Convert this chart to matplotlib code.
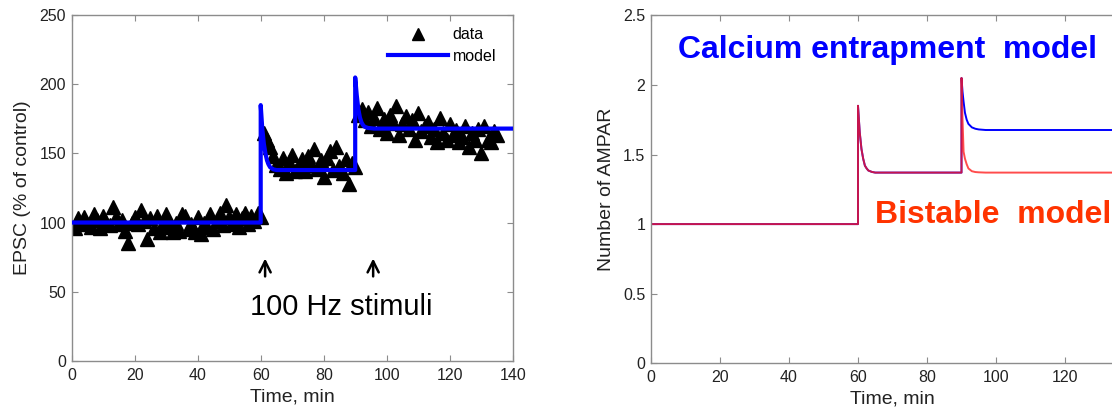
import matplotlib
matplotlib.use("Agg")
import matplotlib.pyplot as plt
from matplotlib.lines import Line2D
import numpy as np

plt.rcParams['font.family'] = ['Liberation Sans', 'DejaVu Sans']

# EPSC recordings, one sample per minute (% of control)
epsc_time = np.arange(0, 136)
epsc_values = [
    # 0-59 min, baseline
    97, 96, 103, 100, 104, 99, 97, 106, 102, 96,
    105, 100, 98, 111, 104, 99, 102, 94, 85, 100,
    104, 99, 109, 101, 88, 103, 96, 105, 93, 100,
    106, 97, 93, 100, 94, 106, 105, 95, 99, 93,
    104, 92, 100, 97, 106, 95, 101, 107, 98, 113,
    104, 99, 106, 97, 103, 107, 99, 105, 101, 107,
    # 60-89 min, after first tetanus
    104, 165, 160, 155, 148, 142, 139, 147, 136, 144,
    149, 137, 141, 146, 137, 148, 142, 153, 139, 145,
    133, 147, 152, 138, 155, 141, 136, 146, 128, 143,
    # 90-135 min, after second tetanus
    140, 178, 182, 174, 180, 170, 176, 183, 168, 175,
    165, 178, 172, 184, 163, 171, 177, 168, 174, 160,
    179, 166, 170, 173, 162, 168, 158, 176, 165, 160,
    171, 163, 167, 158, 162, 170, 155, 165, 160, 168,
    150, 170, 160, 158, 166, 163,
]

# model fit for the EPSC panel
model_time = [0, 60, 60, 60.5, 61, 61.5, 62, 62.5, 63, 64, 65,
              90, 90, 90.5, 91, 91.5, 92, 92.5, 93, 94, 96, 140]
model_values = [100, 100, 185, 168, 157, 150, 145, 142, 140, 138.5, 138,
                138, 205, 192, 182, 176, 172.5, 170.5, 169.3, 168.5, 168, 168]

# AMPAR number for the two models
ampar_time = [0, 60, 60, 60.5, 61, 61.5, 62, 62.5, 63, 64, 65,
              90, 90, 90.3, 90.6, 91, 91.5, 92, 93, 94, 95, 97, 140]
calcium_ampar = [1, 1, 1.85, 1.66, 1.54, 1.47, 1.42, 1.40, 1.385, 1.375, 1.37,
                 1.37, 2.05, 1.95, 1.88, 1.80, 1.75, 1.72, 1.695, 1.685, 1.68, 1.676, 1.676]
bistable_ampar = [1, 1, 1.85, 1.66, 1.54, 1.47, 1.42, 1.40, 1.385, 1.375, 1.37,
                  1.37, 2.05, 1.75, 1.52, 1.47, 1.43, 1.40, 1.38, 1.374, 1.372, 1.37, 1.37]

stim_times = [61.4, 95.7]

spine_gray = '#8c8c8c'
text_dark = '#222222'


def style_axes(ax):
    for s in ax.spines.values():
        s.set_color(spine_gray)
        s.set_linewidth(1.0)
    ax.tick_params(direction='in', length=4, width=0.8, color=spine_gray,
                   top=True, right=True, labelsize=11.5, labelcolor=text_dark)
    ax.tick_params(axis='y', pad=4)
    ax.tick_params(axis='x', pad=5)


fig = plt.figure(figsize=(11.12, 4.11), dpi=100)

# left: EPSC data with model
ax1 = fig.add_axes([71.7 / 1112, 1 - 360.7 / 411, 441 / 1112, 345.4 / 411])
ax1.plot(epsc_time, epsc_values, linestyle='none', marker='^', color='black',
         markersize=9.5, zorder=2)
ax1.plot(model_time, model_values, color='#0000ff', linewidth=3, zorder=3)
ax1.set_xlim(0, 140)
ax1.set_ylim(0, 250)
ax1.set_xticks(np.arange(0, 141, 20))
ax1.set_yticks(np.arange(0, 251, 50))
ax1.set_xlabel('Time, min', fontsize=14, color=text_dark, labelpad=4)
ax1.set_ylabel('EPSC (% of control)', fontsize=14, color=text_dark, labelpad=6)
style_axes(ax1)

for t in stim_times:
    ax1.annotate('', xy=(t, 76), xytext=(t, 59),
                 arrowprops=dict(arrowstyle='->', color='black', lw=1.8,
                                 mutation_scale=20))
ax1.text(85.5, 39, '100 Hz stimuli', fontsize=21, ha='center', va='center',
         color='black')

handles = [Line2D([], [], linestyle='none', marker='^', color='black', markersize=9),
           Line2D([], [], color='#0000ff', linewidth=3)]
ax1.legend(handles, ['data', 'model'], loc='upper left',
           bbox_to_anchor=(0.717, 0.965), frameon=False, fontsize=11.5,
           handlelength=3.75, handletextpad=0.3, labelspacing=0.4,
           borderpad=0, borderaxespad=0)

# right: AMPAR number in the two models (axes runs past the figure edge)
ax2 = fig.add_axes([651 / 1112, 1 - 363.3 / 411, 483 / 1112, 348 / 411])
ax2.plot(ampar_time, calcium_ampar, color='#0000ff', linewidth=1.4)
ax2.plot(ampar_time, bistable_ampar, color='#ff1a1a', linewidth=1.4, alpha=0.78)
ax2.set_xlim(0, 140)
ax2.set_ylim(0, 2.5)
ax2.set_xticks(np.arange(0, 121, 20))
ax2.set_yticks([0, 0.5, 1, 1.5, 2, 2.5])
ax2.set_yticklabels(['0', '0.5', '1', '1.5', '2', '2.5'])
ax2.set_xlabel('Time, min', fontsize=14, color=text_dark, labelpad=4)
ax2.set_ylabel('Number of AMPAR', fontsize=14, color=text_dark, labelpad=6)
style_axes(ax2)

ax2.text(7.8, 2.191, 'Calcium entrapment  model', fontsize=23,
         fontweight='bold', color='#0000ff', ha='left', va='baseline')
ax2.text(64.9, 1.01, 'Bistable  model', fontsize=23,
         fontweight='bold', color='#ff3300', ha='left', va='baseline')

fig.savefig('out.png', dpi=100)
